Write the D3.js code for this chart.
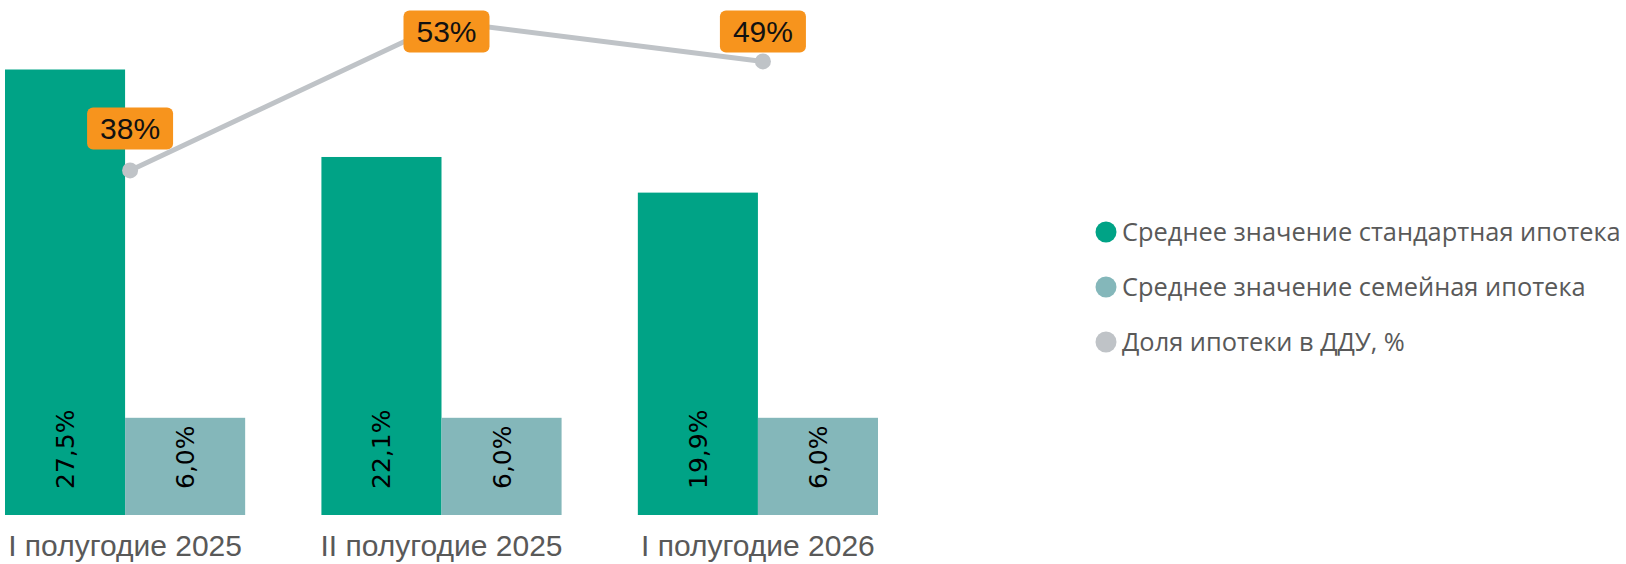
<!DOCTYPE html>
<head>
  <meta charset="utf-8">
  <title>Ипотека</title>
  <script src="https://d3js.org/d3.v7.min.js"></script>
</head>
<style>
  html, body { margin: 0; padding: 0; background: #fff; }
  svg { display: block; }
  .axis-label { font: 30px "Liberation Sans Narrow", "Liberation Sans", sans-serif; fill: #595959; }
  .bar-label { font: 25px "DejaVu Sans", sans-serif; fill: #000; }
  .pt-label { font: 30px "Liberation Sans Narrow", "Liberation Sans", sans-serif; fill: #111; }
  .legend text { font: 25.4px "Open Sans", sans-serif; fill: #595959; }
</style>
<body>
<svg id="chart" width="1626" height="564"></svg>
<script>

var categories = ["I полугодие 2025", "II полугодие 2025", "I полугодие 2026"];
var standard = [27.5, 22.1, 19.9];
var family = [6.0, 6.0, 6.0];
var share = [38, 53, 49];
var seriesNames = ["Среднее значение стандартная ипотека", "Среднее значение семейная ипотека", "Доля ипотеки в ДДУ, %"];
var colors = ["#00a386", "#84b7ba", "#bfc3c7"];

var svg = d3.select("#chart");

var x0 = d3.scaleBand()
    .domain(categories)
    .range([5, 878])
    .paddingInner(0.241)
    .paddingOuter(0);

var x1 = d3.scaleBand()
    .domain([0, 1])
    .range([0, x0.bandwidth()]);

var y = d3.scaleLinear().domain([0, 30]).range([515, 29]);
var y2 = d3.scaleLinear().domain([0, 55]).range([547, 2]);

var fmt = function(v) { return v.toFixed(1).replace(".", ",") + "%"; };

// bars
var groups = svg.selectAll("g.grp")
    .data(categories)
    .enter().append("g")
      .attr("class", "grp")
      .attr("transform", function(d) { return "translate(" + x0(d) + ",0)"; });

groups.each(function(c, i) {
  var g = d3.select(this);
  var vals = [standard[i], family[i]];
  g.selectAll("rect")
    .data(vals)
    .enter().append("rect")
      .attr("x", function(d, j) { return x1(j); })
      .attr("width", x1.bandwidth())
      .attr("y", function(d) { return y(d); })
      .attr("height", function(d) { return y(0) - y(d); })
      .attr("fill", function(d, j) { return colors[j]; });

  g.selectAll("text.bar-label")
    .data(vals)
    .enter().append("text")
      .attr("class", "bar-label")
      .attr("transform", function(d, j) {
        return "translate(" + (x1(j) + x1.bandwidth() / 2 + 9) + "," + (y(0) - 26) + ") rotate(-90)";
      })
      .attr("text-anchor", "start")
      .text(fmt);
});

// category labels
svg.selectAll("text.axis-label")
  .data(categories)
  .enter().append("text")
    .attr("class", "axis-label")
    .attr("x", function(d) { return x0(d) + x0.bandwidth() / 2; })
    .attr("y", 556)
    .attr("text-anchor", "middle")
    .text(function(d) { return d; });

// line
var lx = function(d, i) { return x0(categories[i]) + x0.bandwidth() / 2 + 5; };
var line = d3.line()
    .x(function(d, i) { return lx(d, i); })
    .y(function(d) { return y2(d); });

svg.append("path")
    .datum(share)
    .attr("d", line)
    .attr("fill", "none")
    .attr("stroke", colors[2])
    .attr("stroke-width", 5);

svg.selectAll("circle.pt")
  .data(share)
  .enter().append("circle")
    .attr("class", "pt")
    .attr("cx", lx)
    .attr("cy", function(d) { return y2(d); })
    .attr("r", 8)
    .attr("fill", colors[2]);

// point labels
var lbl = svg.selectAll("g.lbl")
  .data(share)
  .enter().append("g")
    .attr("class", "lbl")
    .attr("transform", function(d, i) {
      var cy = Math.max(y2(d) - 42, 31.5);
      return "translate(" + lx(d, i) + "," + cy + ")";
    });

lbl.append("rect")
    .attr("x", -43)
    .attr("y", -21)
    .attr("width", 86)
    .attr("height", 42)
    .attr("rx", 6)
    .attr("fill", "#f7941d");

lbl.append("text")
    .attr("class", "pt-label")
    .attr("text-anchor", "middle")
    .attr("dy", "0.36em")
    .text(function(d) { return d + "%"; });

// legend
var legend = svg.append("g")
    .attr("class", "legend")
    .attr("transform", "translate(1106,232)");

var li = legend.selectAll("g")
  .data(seriesNames)
  .enter().append("g")
    .attr("transform", function(d, i) { return "translate(0," + (i * 55) + ")"; });

li.append("circle")
    .attr("r", 10.5)
    .attr("fill", function(d, i) { return colors[i]; });

li.append("text")
    .attr("x", 16)
    .attr("dy", "0.35em")
    .text(function(d) { return d; });

</script>
</body>
